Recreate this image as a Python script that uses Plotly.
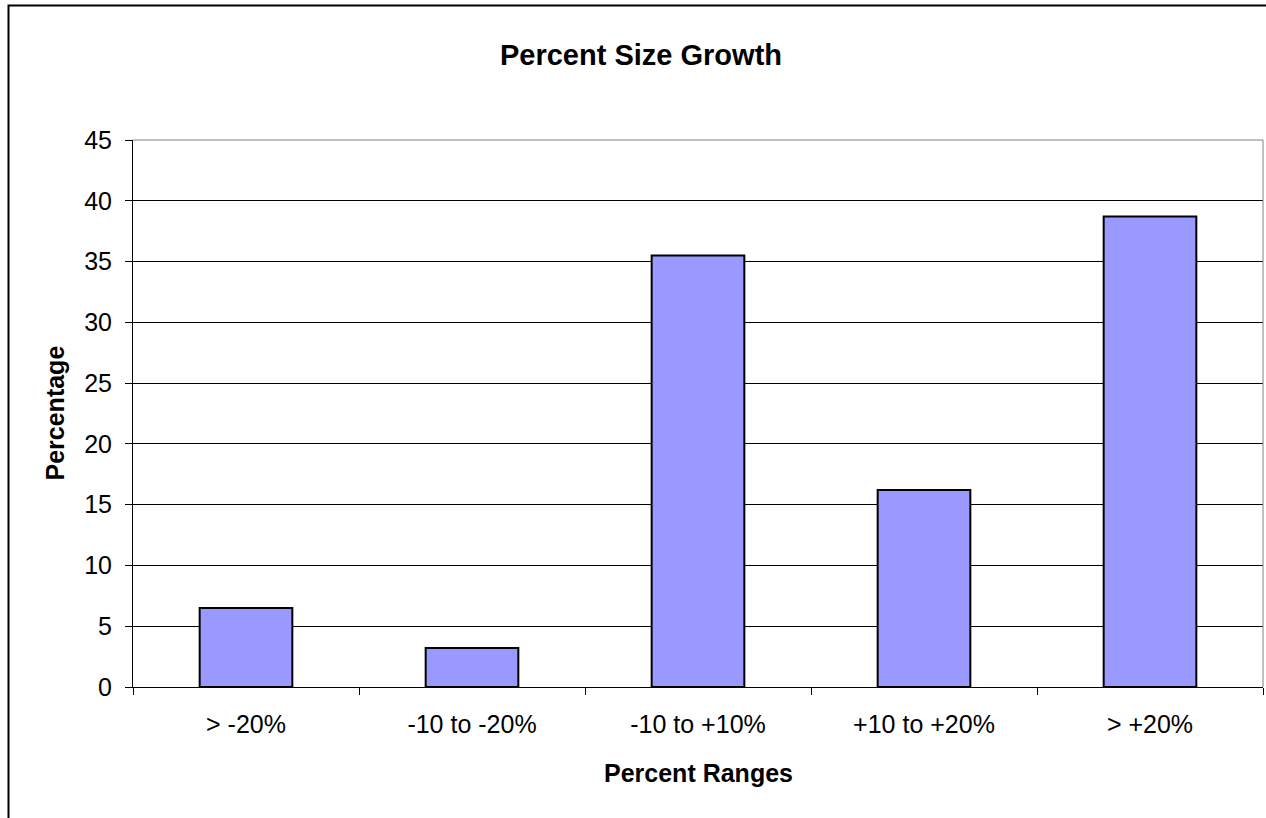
import plotly.graph_objects as go

# Percent size growth by range
categories = ["> -20%", "-10 to -20%", "-10 to +10%", "+10 to +20%", "> +20%"]
percentages = [6.5, 3.2, 35.5, 16.2, 38.7]
y_ticks = [0, 5, 10, 15, 20, 25, 30, 35, 40, 45]

FONT = "Liberation Sans, Arial, sans-serif"

W, H = 1266, 818
L, R, T, B = 133, 3, 140, 131
PW, PH = W - L - R, H - T - B


def px_x(px):
    return (px - L) / PW


def px_y(py):
    return (H - B - py) / PH


fig = go.Figure(
    go.Bar(
        x=categories,
        y=percentages,
        marker=dict(color="#9999FF", line=dict(color="black", width=2)),
        hoverinfo="x+y",
    )
)

fig.update_layout(
    width=W,
    height=H,
    margin=dict(l=L, r=R, t=T, b=B),
    paper_bgcolor="white",
    plot_bgcolor="white",
    bargap=0.59,
    showlegend=False,
    font=dict(family=FONT, size=25, color="black"),
    title=dict(
        text="<b>Percent Size Growth</b>",
        font=dict(family=FONT, size=29, color="black"),
        x=641 / W,
        xref="container",
        xanchor="center",
        y=1 - 55 / H,
        yref="container",
        yanchor="middle",
    ),
    xaxis=dict(
        type="category",
        showline=True,
        linecolor="black",
        linewidth=1,
        ticks="outside",
        tickson="boundaries",
        ticklen=7,
        tickcolor="black",
        showgrid=False,
        tickfont=dict(family=FONT, size=25, color="black"),
        ticklabelstandoff=15,
    ),
    yaxis=dict(
        range=[0, 45],
        tickvals=y_ticks,
        showline=True,
        linecolor="black",
        linewidth=1,
        ticks="outside",
        ticklen=7,
        tickcolor="black",
        showgrid=True,
        gridcolor="black",
        gridwidth=1,
        zeroline=False,
        tickfont=dict(family=FONT, size=25, color="black"),
        ticklabelstandoff=8,
    ),
    annotations=[
        dict(
            text="<b>Percent Ranges</b>",
            xref="paper", yref="paper",
            x=0.5, y=px_y(773),
            xanchor="center", yanchor="middle",
            showarrow=False,
            font=dict(family=FONT, size=25, color="black"),
        ),
        dict(
            text="<b>Percentage</b>",
            xref="paper", yref="paper",
            x=px_x(54), y=0.5,
            xanchor="center", yanchor="middle",
            textangle=-90,
            showarrow=False,
            font=dict(family=FONT, size=25, color="black"),
        ),
    ],
    shapes=[
        # plot-area frame (top and right edges)
        dict(type="line", xref="paper", yref="paper", x0=0, x1=1, y0=1, y1=1,
             line=dict(color="#808080", width=1), layer="above"),
        dict(type="line", xref="paper", yref="paper", x0=1, x1=1, y0=0, y1=1,
             line=dict(color="#808080", width=1), layer="above"),
        # chart-area border
        dict(type="rect", xref="paper", yref="paper",
             x0=px_x(8.5), x1=px_x(1290), y0=px_y(840), y1=px_y(5.5),
             line=dict(color="black", width=2), fillcolor="rgba(0,0,0,0)",
             layer="below"),
    ],
)

fig.write_html("out.html")
